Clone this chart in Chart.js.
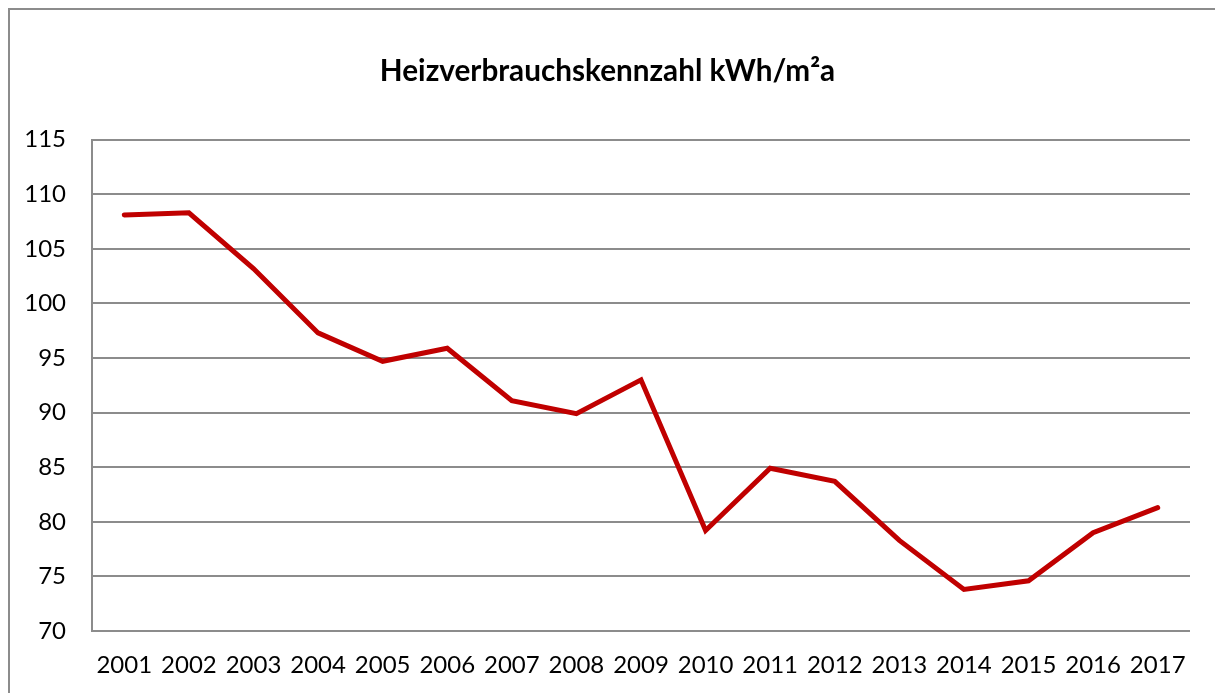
<!DOCTYPE html>
<html>
<head>
<meta charset="utf-8">
<script src="https://cdn.jsdelivr.net/npm/chart.js@4.4.0/dist/chart.umd.min.js"></script>
<style>
    html, body { margin: 0; padding: 0; background: #fff; overflow: hidden; }
    #wrap { position: relative; width: 1215px; height: 693px; }
    #frame {
        position: absolute; left: 8px; top: 8px; width: 1220px; height: 700px;
        border: 2px solid #8c8c8c; box-sizing: border-box; pointer-events: none;
    }
</style>
</head>
<body>
<div id="wrap">
    <canvas id="chart" width="1215" height="693"></canvas>
    <div id="frame"></div>
</div>
<script>
// Daten
const years = ['2001', '2002', '2003', '2004', '2005', '2006', '2007', '2008', '2009',
    '2010', '2011', '2012', '2013', '2014', '2015', '2016', '2017'];
const kennzahl = [108.1, 108.3, 103.2, 97.3, 94.7, 95.9, 91.1, 89.9, 93.0,
    79.2, 84.9, 83.7, 78.3, 73.8, 74.6, 79.0, 81.3];
const yTicks = [70, 75, 80, 85, 90, 95, 100, 105, 110, 115];

const fontFamily = 'Lato, "Open Sans", sans-serif';

const ctx = document.getElementById('chart').getContext('2d');
const chart = new Chart(ctx, {
    type: 'line',
    data: {
        labels: years,
        datasets: [{
            label: 'Heizverbrauchskennzahl',
            data: kennzahl,
            borderColor: '#c00000',
            borderWidth: 5,
            pointRadius: 0,
            tension: 0,
            borderCapStyle: 'round',
            borderJoinStyle: 'miter'
        }]
    },
    options: {
        responsive: false,
        animation: false,
        layout: { padding: { left: 25, right: 25, top: 0, bottom: 0 } },
        plugins: {
            legend: { display: false },
            tooltip: { enabled: false },
            title: {
                display: true,
                text: 'Heizverbrauchskennzahl kWh/m²a',
                color: '#000',
                font: { family: fontFamily, size: 29.7, weight: 'bold' },
                padding: { top: 54, bottom: 50 }
            }
        },
        scales: {
            x: {
                offset: true,
                grid: { display: false, drawTicks: false },
                border: { display: false },
                ticks: {
                    color: '#000',
                    font: { family: fontFamily, size: 24 },
                    padding: 20,
                    maxRotation: 0,
                    autoSkip: false
                },
                afterFit: (scale) => { scale.height = 62; }
            },
            y: {
                min: 70,
                max: 115,
                afterBuildTicks: (scale) => {
                    scale.ticks = yTicks.map(v => ({ value: v }));
                },
                grid: { color: '#8c8c8c', lineWidth: 2, drawTicks: false },
                border: { display: true, color: '#8c8c8c', width: 2 },
                ticks: {
                    color: '#000',
                    font: { family: fontFamily, size: 24 },
                    padding: 26
                },
                afterFit: (scale) => { scale.width = 67; }
            }
        }
    }
});
</script>
</body>
</html>
